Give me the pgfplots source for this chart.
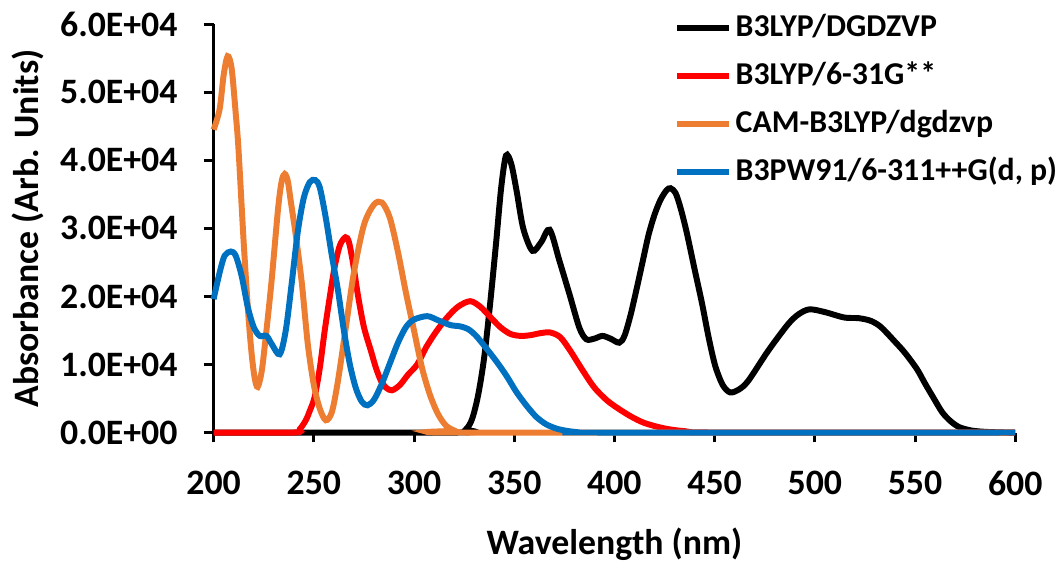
\documentclass[border=0pt]{standalone}
\usepackage{pgfplots}
\pgfplotsset{compat=1.18}
\usepackage{fontspec}
\setmainfont{Carlito}
\definecolor{cOrange}{RGB}{237,125,49}
\definecolor{cBlue}{RGB}{0,112,192}
\begin{document}
\fontsize{18}{21.6}\selectfont\bfseries
\begin{tikzpicture}
\begin{axis}[
  scale only axis, width=403.5pt, height=205.5pt,
  xmin=200, xmax=600, ymin=0, ymax=6e4,
  axis x line=bottom, axis y line=left,
  axis line style={-, line width=1.5pt, black},
  every tick/.style={black, line width=1.5pt},
  tick align=outside, major tick length=5pt,
  xtick={200,250,...,600},
  ytick={0,1e4,2e4,3e4,4e4,5e4,6e4},
  scaled y ticks=false,
  yticklabels={0.0E+00,1.0E+04,2.0E+04,3.0E+04,4.0E+04,5.0E+04,6.0E+04},
  /pgf/number format/assume math mode=true,
  ticklabel style={font=\fontsize{18}{21.6}\selectfont\bfseries},
  xticklabel style={yshift=-8pt},
  yticklabel style={xshift=-7pt},
  xlabel={Wavelength (nm)}, ylabel={Absorbance (Arb. Units)},
  xlabel style={font=\fontsize{18}{21.6}\selectfont\bfseries, yshift=-4pt},
  ylabel style={font=\fontsize{18}{21.6}\selectfont\bfseries, yshift=-4pt},
  clip=false,
  legend style={at={(0.574,1.035)}, anchor=north west, draw=none, fill=none,
    font=\fontsize{16}{19}\selectfont\bfseries, row sep=6pt, inner sep=0pt,
    /tikz/every even column/.append style={column sep=2pt}},
  legend cell align=left,
  legend image code/.code={\draw[#1, line width=3pt] (0pt,0pt) -- (26pt,0pt);},
  every axis plot/.append style={line width=3pt, smooth, no marks},
]
% B3LYP/DGDZVP
\addplot[black] coordinates {
(200,0) (322,0) (326,0.05e4) (329,0.2e4) (332,0.55e4) (335,1.1e4) (338,1.9e4) (341,2.8e4) (343.5,3.6e4) (345.9,4.07e4)
(348.5,3.95e4) (351.2,3.55e4) (354.5,3.0e4) (359.1,2.67e4) (363.5,2.8e4) (367.7,2.98e4) (372.6,2.52e4) (377.6,2.03e4)
(382.5,1.54e4) (386,1.37e4) (390,1.38e4) (394,1.42e4) (398,1.38e4) (402.4,1.32e4) (405,1.42e4) (408,1.72e4)
(411,2.1e4) (414,2.5e4) (417,2.9e4) (420,3.2e4) (423,3.42e4) (426,3.56e4) (428,3.59e4) (430.5,3.52e4)
(433,3.3e4) (436,2.95e4) (440,2.4e4) (443.7,1.9e4) (447,1.4e4) (450.3,0.98e4) (454,0.7e4) (457.7,0.59e4)
(462,0.63e4) (466.8,0.76e4) (476.7,1.2e4) (486.6,1.59e4) (492,1.74e4) (497.4,1.81e4) (505,1.77e4) (514.7,1.69e4)
(522,1.68e4) (528,1.64e4) (533,1.55e4) (539.5,1.35e4) (545,1.17e4) (551,0.93e4) (555,0.72e4) (559.4,0.5e4)
(563.5,0.3e4) (567.6,0.17e4) (572,0.08e4) (578,0.03e4) (585,0.01e4) (595,0) (600,0)};
\addlegendentry{B3LYP/DGDZVP}
% B3LYP/6-31G**
\addplot[red] coordinates {
(200,0) (240,0) (243,0.05e4) (246,0.18e4) (248,0.32e4) (250.4,0.52e4) (253,0.95e4) (255.4,1.49e4) (258,2.0e4)
(260.3,2.42e4) (263,2.75e4) (265.8,2.87e4) (267.5,2.8e4) (269.5,2.5e4) (272,2.02e4) (275,1.55e4) (278.5,1.2e4)
(281,0.95e4) (283.5,0.76e4) (286,0.66e4) (289,0.62e4) (293,0.7e4) (297,0.85e4) (301.6,1.0e4) (306,1.25e4)
(311,1.48e4) (316.5,1.69e4) (322,1.85e4) (328,1.93e4) (333,1.85e4) (338,1.7e4) (343,1.55e4) (348,1.45e4)
(353,1.42e4) (358,1.43e4) (363,1.46e4) (368,1.47e4) (373,1.4e4) (378,1.2e4) (384,0.92e4) (390,0.66e4)
(396,0.48e4) (401,0.37e4) (408,0.24e4) (415,0.14e4) (425,0.06e4) (435,0.02e4) (450,0) (600,0)};
\addlegendentry{B3LYP/6-31G**}
% CAM-B3LYP/dgdzvp
\addplot[cOrange] coordinates {
(200,4.45e4) (203,4.75e4) (205,5.25e4) (207,5.53e4) (209,5.35e4) (211,4.7e4) (212.4,4.17e4) (215,2.8e4)
(217.3,1.74e4) (219,1.15e4) (220.5,0.8e4) (222,0.67e4) (224,0.9e4) (226,1.4e4) (228.9,2.22e4) (232.2,3.3e4)
(234,3.7e4) (235.5,3.8e4) (237,3.7e4) (238.5,3.4e4) (241,2.9e4) (244,2.2e4) (247,1.3e4) (250,0.7e4)
(253,0.35e4) (256,0.18e4) (259,0.3e4) (262,0.75e4) (266,1.55e4) (270,2.35e4) (275,3.05e4) (280,3.35e4)
(284,3.38e4) (288,3.15e4) (292,2.65e4) (296,2.05e4) (300,1.5e4) (304,0.95e4) (308,0.55e4) (312,0.27e4)
(316,0.1e4) (320,0.03e4) (325,0) (600,0)};
\addlegendentry{CAM-B3LYP/dgdzvp}
% B3PW91/6-311++G(d, p)
\addplot[cBlue] coordinates {
(200,1.96e4) (203,2.35e4) (205.5,2.6e4) (208.6,2.66e4) (211,2.6e4) (214,2.3e4) (217,1.85e4) (220,1.55e4)
(223,1.42e4) (226.4,1.42e4) (229,1.3e4) (233,1.15e4) (236,1.5e4) (239,2.2e4) (242,2.95e4) (245,3.45e4)
(248,3.68e4) (250.7,3.71e4) (253,3.6e4) (256,3.15e4) (259,2.6e4) (262,2.1e4) (265,1.5e4) (268,1.0e4)
(271,0.65e4) (274,0.45e4) (276.8,0.4e4) (280,0.48e4) (284,0.72e4) (288,1.02e4) (292,1.32e4) (296,1.55e4)
(300,1.66e4) (306.6,1.71e4) (312,1.65e4) (318,1.58e4) (323,1.56e4) (327,1.52e4) (331,1.42e4) (336,1.24e4)
(341,1.05e4) (346,0.84e4) (351,0.6e4) (356,0.4e4) (361,0.23e4) (366,0.12e4) (372,0.05e4) (380,0.01e4)
(390,0) (600,0)};
\addlegendentry{B3PW91/6-311++G(d, p)}
\end{axis}
\end{tikzpicture}
\end{document}
